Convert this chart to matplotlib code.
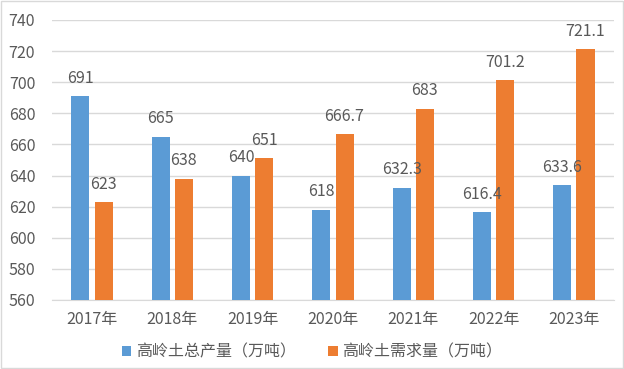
import matplotlib
matplotlib.use("Agg")
import matplotlib.pyplot as plt
import numpy as np
from matplotlib.patches import Rectangle

plt.rcParams['font.family'] = ['Noto Sans CJK SC', 'DejaVu Sans']

# === DATA ===
anos = ["2017年", "2018年", "2019年", "2020年", "2021年", "2022年", "2023年"]
producao = [691, 665, 640, 618, 632.3, 616.4, 633.6]
demanda = [623, 638, 651, 666.7, 683, 701.2, 721.1]
rotulos_prod = ["691", "665", "640", "618", "632.3", "616.4", "633.6"]
rotulos_dem = ["623", "638", "651", "666.7", "683", "701.2", "721.1"]
nomes = ["高岭土总产量（万吨）", "高岭土需求量（万吨）"]

AZUL = "#5B9BD5"
LARANJA = "#ED7D31"
TEXTO = "#595959"
FS = 11.5

fig = plt.figure(figsize=(6.24, 3.69), dpi=100)
ax = fig.add_axes([0.083, 0.187, 0.901, 0.759])

x = np.arange(len(anos))
w = 0.225
off = 0.145
b1 = ax.bar(x - off, producao, w, color=AZUL, label=nomes[0], zorder=3)
b2 = ax.bar(x + off, demanda, w, color=LARANJA, label=nomes[1], zorder=3)

for rect, txt in zip(b1, rotulos_prod):
    ax.text(rect.get_x() + rect.get_width() / 2, rect.get_height() + 6, txt,
            ha="center", va="bottom", fontsize=FS, color=TEXTO)
for rect, txt in zip(b2, rotulos_dem):
    ax.text(rect.get_x() + rect.get_width() / 2, rect.get_height() + 6, txt,
            ha="center", va="bottom", fontsize=FS, color=TEXTO)

ax.set_ylim(560, 740)
ax.set_yticks(range(560, 741, 20))
ax.set_xlim(-0.5, len(anos) - 0.5)
ax.set_xticks(x)
ax.set_xticklabels(anos)
ax.tick_params(axis="both", length=0, labelsize=FS, colors=TEXTO)
ax.tick_params(axis="y", pad=12)
ax.tick_params(axis="x", pad=8)
ax.grid(axis="y", color="#D9D9D9", lw=1, zorder=0)
for s in ["top", "right", "left"]:
    ax.spines[s].set_visible(False)
ax.spines["bottom"].set_color("#D9D9D9")

leg = fig.legend(loc="center", bbox_to_anchor=(0.5, 0.046), ncol=2, frameon=False,
                 fontsize=11.5, handlelength=0.6, handleheight=0.6,
                 handletextpad=0.3, columnspacing=2.0)
for t in leg.get_texts():
    t.set_color(TEXTO)

fig.patches.append(Rectangle((0.002, 0.003), 0.996, 0.994, transform=fig.transFigure,
                             fill=False, edgecolor="#D9D9D9", lw=1))

fig.savefig("out.png", dpi=100)
